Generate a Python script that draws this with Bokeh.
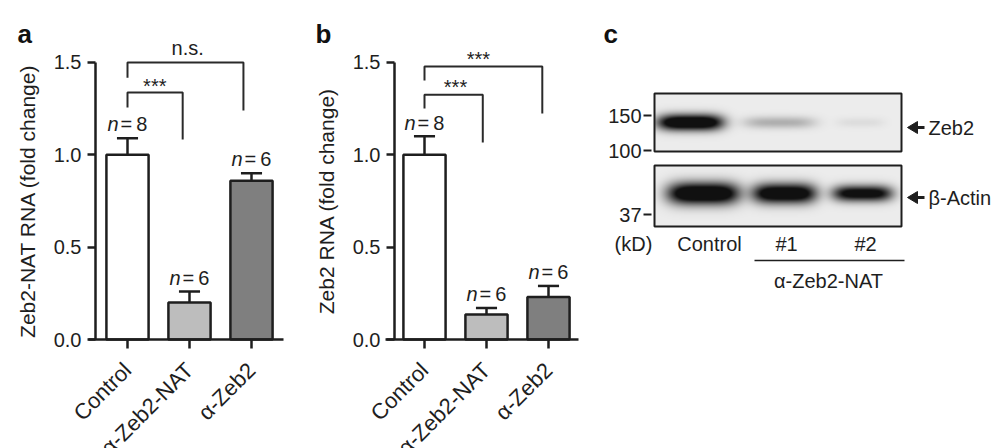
from math import pi
import numpy as np
from bokeh.plotting import figure
from bokeh.layouts import row
from bokeh.models import Range1d, FixedTicker, PrintfTickFormatter, LinearColorMapper
from bokeh.palettes import Greys256
from bokeh.core.properties import value
from bokeh.embed import file_html
from bokeh.resources import INLINE

FONT = "Liberation Sans"
INK = "#1e1e1e"

# ---------------- data ----------------
groups = ["Control", "α-Zeb2-NAT", "α-Zeb2"]
bar_colors = ["#ffffff", "#bdbdbd", "#7f7f7f"]
y_ticks = [0.0, 0.5, 1.0, 1.5]

a_mean = [1.00, 0.20, 0.86]
a_sem = [0.09, 0.06, 0.04]
a_n = [8, 6, 6]

b_mean = [1.00, 0.135, 0.23]
b_sem = [0.10, 0.035, 0.06]
b_n = [8, 6, 6]

# brackets: left group, right end, left foot, top, right foot, label, label x, label y
a_brackets = [
    (0, 0.89, 1.256, 1.337, 1.083, "***", 0.44, 1.375),
    (0, 1.87, 1.418, 1.500, 1.240, "n.s.", 0.97, 1.58),
]
b_brackets = [
    (0, 0.94, 1.251, 1.326, 1.067, "***", 0.50, 1.365),
    (0, 1.90, 1.402, 1.478, 1.224, "***", 0.87, 1.52),
]

# western blot (relative band darkness per lane)
lanes = ["Control", "#1", "#2"]
zeb2_signal = [1.0, 0.2, 0.05]
actin_signal = [1.0, 0.95, 0.85]
mw_labels = ["150", "100", "37"]

# ---------------- layout constants (picture pixels) ----------------
SX = 62.0      # px per category
SY = 184.67    # px per fold-change unit
ZERO_Y = 339   # picture y of value 0
TOP_Y, BOT_Y = 0, 448


def bar_panel(mean, sem, ns, brackets, ylabel, letter, fig_left, width,
              x0_px, yaxis_px, xaxis_l_px, xaxis_r_px, letter_px):
    def dx(px):
        return (px - x0_px) / SX

    def dy(py):
        return (ZERO_Y - py) / SY

    p = figure(width=width, height=BOT_Y - TOP_Y,
               x_range=Range1d(dx(fig_left), dx(fig_left + width)),
               y_range=Range1d(dy(BOT_Y), dy(TOP_Y)),
               output_backend="svg", toolbar_location=None, min_border=0)
    p.outline_line_color = None
    p.grid.visible = False
    p.background_fill_color = "white"
    x = list(range(len(groups)))
    p.vbar(x=x, bottom=0, top=mean, width=0.68, fill_color=bar_colors,
           line_color=INK, line_width=2.5)
    tops = [m + s for m, s in zip(mean, sem)]
    p.segment(x0=x, y0=mean, x1=x, y1=tops, line_color=INK, line_width=2.5)
    p.segment(x0=[v - 0.17 for v in x], y0=tops, x1=[v + 0.17 for v in x],
              y1=tops, line_color=INK, line_width=2.5)
    ny = [t + 0.075 for t in tops]
    p.text(x=x, y=ny, text=["n"] * len(x), x_offset=-9, text_align="right",
           text_baseline="middle", text_font=value(FONT),
           text_font_style="italic", text_font_size=value("20px"),
           text_color=INK)
    p.text(x=x, y=ny, text=["=\u2009%d" % n for n in ns], x_offset=-7,
           text_align="left", text_baseline="middle", text_font=value(FONT),
           text_font_size=value("20px"), text_color=INK)
    for g0, x1, yl, yt, yr, lab, lx, ly in brackets:
        p.line(x=[g0, g0, x1, x1], y=[yl, yt, yt, yr], line_color="#2a2a2a",
               line_width=2)
        p.text(x=[lx], y=[ly], text=[lab], text_align="center",
               text_baseline="middle", text_font=value(FONT),
               text_font_size=value("20px"), text_color=INK)

    p.text(x=[dx(letter_px[0])], y=[dy(letter_px[1])], text=[letter],
           text_align="left", text_baseline="alphabetic",
           text_font=value(FONT), text_font_size=value("26px"),
           text_font_style="bold", text_color="#111111")

    ya = p.yaxis[0]
    ya.fixed_location = dx(yaxis_px)
    ya.bounds = (0, 1.5)
    ya.ticker = FixedTicker(ticks=y_ticks)
    ya.formatter = PrintfTickFormatter(format="%.1f")
    ya.axis_label = ylabel
    ya.axis_label_text_font = FONT
    ya.axis_label_text_font_size = "21px"
    ya.axis_label_text_font_style = "normal"
    ya.axis_label_text_color = INK
    ya.axis_label_standoff = 12
    ya.major_label_text_font = FONT
    ya.major_label_text_font_size = "20px"
    ya.major_label_text_color = INK
    ya.major_label_standoff = 6
    ya.major_tick_out = 8
    ya.major_tick_in = 0
    ya.minor_tick_out = 0
    ya.minor_tick_in = 0
    ya.axis_line_width = 2.5
    ya.axis_line_color = INK
    ya.major_tick_line_width = 2.5
    ya.major_tick_line_color = INK

    xa = p.xaxis[0]
    xa.fixed_location = 0
    xa.bounds = (dx(xaxis_l_px), dx(xaxis_r_px))
    xa.ticker = FixedTicker(ticks=x)
    xa.major_label_overrides = {i: g for i, g in enumerate(groups)}
    xa.major_label_orientation = pi / 4
    xa.major_label_text_font = FONT
    xa.major_label_text_font_size = "22px"
    xa.major_label_text_color = INK
    xa.major_label_standoff = 18
    xa.major_tick_out = 9
    xa.major_tick_in = 0
    xa.minor_tick_out = 0
    xa.minor_tick_in = 0
    xa.axis_line_width = 2.5
    xa.axis_line_color = INK
    xa.major_tick_line_width = 2.5
    xa.major_tick_line_color = INK
    return p


pa = bar_panel(a_mean, a_sem, a_n, a_brackets, "Zeb2-NAT RNA (fold change)",
               "a", 0, 298, 127, 95, 88, 283, (17, 33))
pb = bar_panel(b_mean, b_sem, b_n, b_brackets, "Zeb2 RNA (fold change)",
               "b", 298, 282, 424, 394, 385, 578, (315, 33))

# ---------------- panel c: western blot ----------------
pc = figure(width=420, height=BOT_Y - TOP_Y, x_range=Range1d(580, 1000),
            y_range=Range1d(BOT_Y, TOP_Y), output_backend="svg",
            toolbar_location=None, min_border=0,
            x_axis_location=None, y_axis_location=None)
pc.outline_line_color = None
pc.grid.visible = False

box_l, box_r = 654, 901
mapper = LinearColorMapper(palette=Greys256, low=0, high=1)

# (top, bottom, band centre y, lane centres x, half-widths, half-heights, signal)
blot_rows = [
    (93, 151, 122, [690, 779, 860], [33, 36, 24], [8, 6, 5], zeb2_signal),
    (165, 226, 193, [703, 784, 862], [36, 32, 30], [11, 10, 8], actin_signal),
]
for top, bot, cy, cxs, hws, hhs, sig in blot_rows:
    h, w = bot - top, box_r - box_l
    yy = top + np.arange(h) + 0.5
    xx = box_l + np.arange(w) + 0.5
    dark = np.zeros((h, w))
    for cx, hw, hh, s in zip(cxs, hws, hhs, sig):
        prof_x = np.exp(-np.abs((xx - cx) / hw) ** 4)
        prof_y = np.exp(-((yy - cy) / hh) ** 2)
        dark += s * np.outer(prof_y, prof_x)
    img = 0.925 - 0.86 * np.clip(dark * 1.4, 0, 1)
    pc.image(image=[img], x=box_l, y=top, dw=w, dh=h, color_mapper=mapper)

pc.quad(left=[box_l] * 2, right=[box_r] * 2, top=[r[0] for r in blot_rows],
        bottom=[r[1] for r in blot_rows], fill_color=None,
        line_color=INK, line_width=2)

mw_y = [115, 150, 214]
pc.text(x=[641] * 3, y=mw_y, text=mw_labels, text_align="right",
        text_baseline="middle", text_font=value(FONT),
        text_font_size=value("20px"), text_color=INK)
pc.segment(x0=[643] * 3, y0=mw_y, x1=[651] * 3, y1=mw_y, line_color=INK,
           line_width=2)
pc.text(x=[633], y=[243], text=["(kD)"], text_align="center",
        text_baseline="middle", text_font=value(FONT),
        text_font_size=value("20px"), text_color=INK)
pc.text(x=[709, 786, 865], y=[243] * 3, text=lanes, text_align="center",
        text_baseline="middle", text_font=value(FONT),
        text_font_size=value("20px"), text_color=INK)
pc.segment(x0=[754], y0=[260], x1=[904], y1=[260], line_color=INK,
           line_width=1.5)
pc.text(x=[828], y=[280], text=["α-Zeb2-NAT"], text_align="center",
        text_baseline="middle", text_font=value(FONT),
        text_font_size=value("20px"), text_color=INK)

arrow_y = [127, 197]
pc.patches(xs=[[907, 917, 917] for _ in arrow_y],
           ys=[[y, y - 6, y + 6] for y in arrow_y], fill_color=INK,
           line_color=INK, line_width=1)
pc.segment(x0=[915] * 2, y0=arrow_y, x1=[924] * 2, y1=arrow_y,
           line_color=INK, line_width=3)
pc.text(x=[928] * 2, y=arrow_y, text=["Zeb2", "β-Actin"], text_align="left",
        text_baseline="middle", text_font=value(FONT),
        text_font_size=value("20px"), text_color=INK)
pc.text(x=[603], y=[33], text=["c"], text_align="left",
        text_baseline="alphabetic", text_font=value(FONT),
        text_font_size=value("26px"), text_font_style="bold",
        text_color="#111111")

layout = row(pa, pb, pc)
open("out.html", "w").write(file_html(layout, INLINE))
